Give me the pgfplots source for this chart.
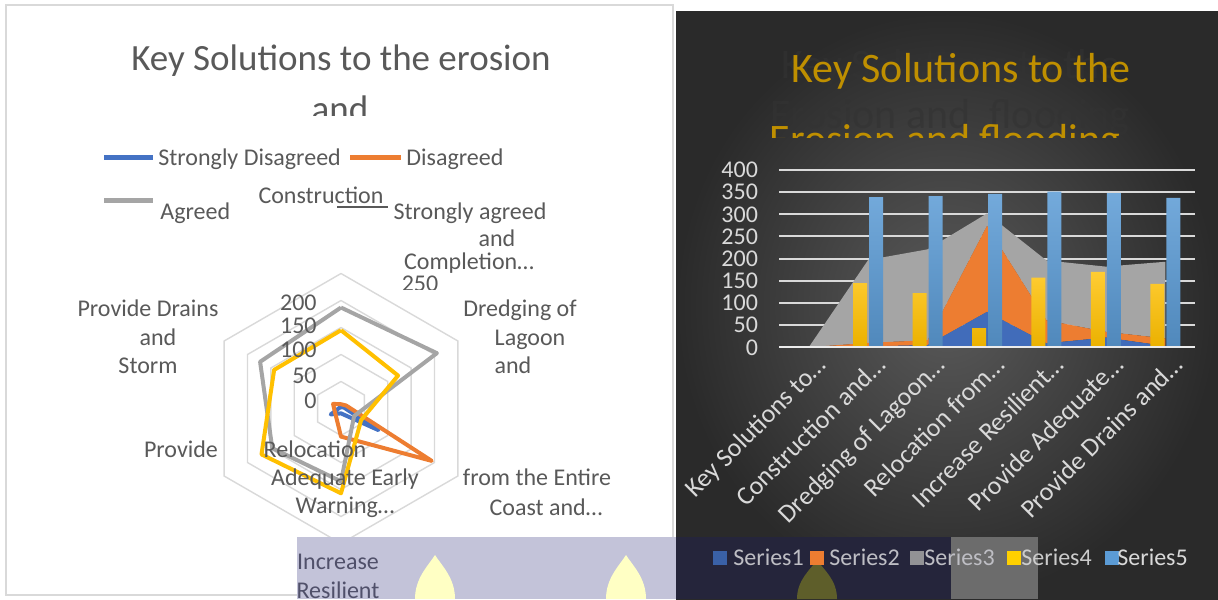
\documentclass[border=0pt]{standalone}
\usepackage{fontspec}
\setmainfont{Carlito}
\usepackage{pgfplots}
\pgfplotsset{compat=1.18}
\usepgfplotslibrary{polar}

\definecolor{tgray}{HTML}{595959}
\definecolor{hexgrid}{HTML}{D9D9D9}
\definecolor{panelbd}{HTML}{D9D9D9}
\definecolor{sA}{HTML}{4472C4}
\definecolor{sB}{HTML}{ED7D31}
\definecolor{sC}{HTML}{A5A5A5}
\definecolor{sD}{HTML}{FFC000}
\definecolor{sE}{HTML}{5B9BD5}
\definecolor{gold}{HTML}{BF8F00}
\definecolor{rtext}{HTML}{D9D9D9}
\definecolor{bgin}{HTML}{5A5A5A}
\definecolor{bgout}{HTML}{2A2A2A}
\definecolor{lav}{HTML}{C3C3D9}
\definecolor{navy}{HTML}{25253B}
\definecolor{bandgray}{HTML}{6C6C6C}
\definecolor{flame}{HTML}{FFFFC4}
\definecolor{flamedark}{HTML}{5E5E2A}

\begin{document}
\begin{tikzpicture}[x=0.5pt,y=-0.5pt,
  lbl/.style={font=\fontsize{12}{14}\selectfont, text=tgray, inner sep=0pt},
  rl/.style={font=\fontsize{12}{14}\selectfont, text=rtext, inner sep=0pt}]
\useasboundingbox (0,0) rectangle (1218,599);
\fill[white] (0,0) rectangle (1218,599);

% ---------- left panel: radar ----------
\draw[panelbd, line width=1pt] (6,5) rectangle (673,595);

\node[anchor=base, inner sep=0pt, text=tgray, font=\fontsize{18.5}{22}\selectfont] at (341,70) {Key Solutions to the erosion};
\begin{scope}
  \clip (200,80) rectangle (480,115);
  \node[anchor=base, inner sep=0pt, text=tgray, font=\fontsize{18.5}{22}\selectfont] at (340,121) {and};
\end{scope}

% legend
\draw[sA, line width=2.5pt] (104,157) -- (153,157);
\node[lbl, anchor=base west] at (158,165) {Strongly Disagreed};
\draw[sB, line width=2.5pt] (350,157) -- (401,157);
\node[lbl, anchor=base west] at (406,165) {Disagreed};
\draw[sC, line width=2.5pt] (104,200) -- (153,200);
\node[lbl, anchor=base west] at (160,219) {Agreed};

\begin{polaraxis}[at={(170.5pt,-204.25pt)}, anchor=origin,
  scale only axis, width=135pt, height=135pt,
  xmin=0, xmax=360, ymin=0, ymax=250,
  hide axis, clip=false]
\addplot[hexgrid, line width=0.7pt] coordinates {(90,50)(30,50)(330,50)(270,50)(210,50)(150,50)(90,50)};
\addplot[hexgrid, line width=0.7pt] coordinates {(90,100)(30,100)(330,100)(270,100)(210,100)(150,100)(90,100)};
\addplot[hexgrid, line width=0.7pt] coordinates {(90,150)(30,150)(330,150)(270,150)(210,150)(150,150)(90,150)};
\addplot[hexgrid, line width=0.7pt] coordinates {(90,200)(30,200)(330,200)(270,200)(210,200)(150,200)(90,200)};
\addplot[hexgrid, line width=0.7pt] coordinates {(90,250)(30,250)(330,250)(270,250)(210,250)(150,250)(90,250)};
% Strongly Disagreed
\addplot[sA, line width=2pt, line join=round] coordinates {(90,2)(30,5)(330,80)(270,9)(210,22)(150,3)(90,2)};
% Disagreed
\addplot[sB, line width=2pt, line join=round] coordinates {(90,8)(30,11)(330,194)(270,52)(210,13)(150,17)(90,8)};
% Agreed
\addplot[sC, line width=2pt, line join=round] coordinates {(90,187)(30,205)(330,28)(270,135)(210,147)(150,173)(90,187)};
% Strongly agreed
\addplot[sD, line width=2pt, line join=round] coordinates {(90,145)(30,122)(330,43)(270,157)(210,170)(150,143)(90,145)};
\end{polaraxis}

% radial tick labels
\node[lbl, anchor=base east] at (317,408) {0};
\node[lbl, anchor=base east] at (317,383) {50};
\node[lbl, anchor=base east] at (317,357) {100};
\node[lbl, anchor=base east] at (317,333) {150};
\node[lbl, anchor=base east] at (317,310) {200};
\begin{scope}
  \clip (395,270) rectangle (450,289);
  \node[lbl, anchor=base] at (420,291) {250};
\end{scope}

% category labels
\node[lbl, anchor=base] at (321,203) {Construction};
\draw[tgray, line width=0.8pt] (337,207) -- (388,207);
\node[lbl, anchor=base] at (470,219) {Strongly agreed};
\node[lbl, anchor=base] at (497,246) {and};
\node[lbl, anchor=base] at (469,269) {Completion…};
\node[lbl, anchor=base] at (520,316) {Dredging of};
\node[lbl, anchor=base] at (530,345) {Lagoon};
\node[lbl, anchor=base] at (513,373) {and};
\node[lbl, anchor=base] at (537,485) {from the Entire};
\node[lbl, anchor=base] at (546,515) {Coast and…};
\node[lbl, anchor=base] at (181,457) {Provide};
\node[lbl, anchor=base] at (148,316) {Provide Drains};
\node[lbl, anchor=base] at (158,345) {and};
\node[lbl, anchor=base] at (148,373) {Storm};
\node[lbl, anchor=base] at (315,457) {Relocation};
\node[lbl, anchor=base] at (345,485) {Adequate Early};
\node[lbl, anchor=base] at (345,513) {Warning…};

% ---------- right panel ----------
\shade[inner color=bgin, outer color=bgout] (676,12) rectangle (1218,599);

\node[anchor=base, inner sep=0pt, text=black!80, opacity=0.65, font=\fontsize{21}{25}\selectfont] at (951,79) {Key Solutions to the};
\node[anchor=base, inner sep=0pt, text=black!80, opacity=0.65, font=\fontsize{21}{25}\selectfont] at (950,128) {Erosion and\ \ flooding};
\node[anchor=base, inner sep=0pt, text=gold, font=\fontsize{21}{25}\selectfont] at (961,83) {Key Solutions to the};
\begin{scope}
  \clip (700,120) rectangle (1210,137);
  \node[anchor=base, inner sep=0pt, text=gold, font=\fontsize{21}{25}\selectfont] at (945,153) {Erosion and flooding};
\end{scope}

\begin{axis}[at={(389.5pt,-173.65pt)}, anchor=south west,
  scale only axis, width=208pt, height=88.65pt,
  xmin=-0.5, xmax=6.5, ymin=0, ymax=400,
  ytick={0,50,...,400}, xtick={0,...,6},
  xticklabels={Key Solutions to…, Construction and…, Dredging of Lagoon…, Relocation from…, Increase Resilient…, Provide Adequate…, Provide Drains and…},
  axis line style={draw=none}, major tick length=0pt,
  ymajorgrids, grid style={rtext, line width=1pt},
  /pgf/number format/assume math mode=true,
  yticklabel style={font=\fontsize{12}{14}\selectfont, text=rtext, xshift=-7pt},
  xticklabel style={font=\fontsize{13}{16}\selectfont, text=rtext, rotate=45, anchor=north east, inner sep=0pt, xshift=0pt, yshift=-4.3pt},
  stack plots=y]
\addplot[draw=none, fill=sA!95!black] coordinates {(0,0)(1,2)(2,5)(3,80)(4,9)(5,22)(6,3)} \closedcycle;
\addplot[draw=none, fill=sB] coordinates {(0,0)(1,8)(2,11)(3,194)(4,52)(5,13)(6,17)} \closedcycle;
\addplot[draw=none, fill=sC] coordinates {(0,0)(1,187)(2,205)(3,28)(4,135)(5,147)(6,173)} \closedcycle;
\end{axis}

\begin{axis}[at={(389.5pt,-173.65pt)}, anchor=south west,
  scale only axis, width=208pt, height=88.65pt,
  xmin=-0.5, xmax=6.5, ymin=0, ymax=400,
  hide axis, ybar, bar width=7pt]
\addplot[ybar, bar shift=-4pt, draw=none, top color=sD!80!white, bottom color=sD!92!black] coordinates {(1,145)(2,122)(3,43)(4,157)(5,170)(6,143)};
\addplot[ybar, bar shift=4pt, draw=none, top color=sE!85!white, bottom color=sE!88!black] coordinates {(1,339)(2,341)(3,346)(4,351)(5,348)(6,337)};
\draw[white!92!black, line width=1.5pt] (axis cs:-0.5,0) -- (axis cs:6.5,0);
\end{axis}

% ---------- bottom band ----------
\fill[lav] (297,537) rectangle (676,599);
\fill[navy] (676,537) rectangle (951,599);
\fill[bandgray] (951,537) rectangle (1038,599);
\fill[flame] (435,555) .. controls (442,566) and (455,578) .. (455,599) -- (415,599) .. controls (415,578) and (428,566) .. (435,555);
\fill[flame] (626,555) .. controls (633,566) and (646,578) .. (646,599) -- (606,599) .. controls (606,578) and (619,566) .. (626,555);
\fill[flamedark] (817,560) .. controls (824,570) and (837,580) .. (837,599) -- (797,599) .. controls (797,580) and (810,570) .. (817,560);

\node[lbl, anchor=base, text=tgray!90!blue] at (338,569) {Increase};
\node[lbl, anchor=base, text=tgray!90!blue] at (338,598) {Resilient};

% right legend
\fill[sA!85!black] (713,551) rectangle (727,565);
\node[rl, anchor=base west, text=white!70!navy] at (733,565) {Series1};
\fill[sB] (810,551) rectangle (824,565);
\node[rl, anchor=base west, text=white!70!navy] at (829,565) {Series2};
\fill[sC!85!navy] (910,551) rectangle (924,565);
\node[rl, anchor=base west, text=white!70!navy] at (924,565) {Series3};
\fill[sD!75!yellow] (1007,551) rectangle (1021,565);
\node[rl, anchor=base west, text=white!80!black] at (1021,565) {Series4};
\fill[sE] (1105,551) rectangle (1119,565);
\node[rl, anchor=base west] at (1117,565) {Series5};
\end{tikzpicture}
\end{document}
